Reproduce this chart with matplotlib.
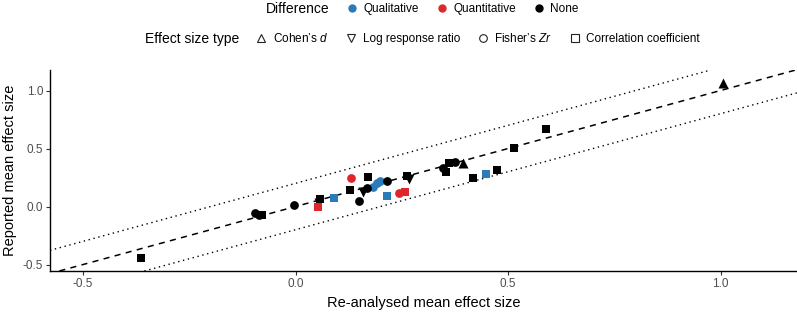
import matplotlib
matplotlib.use('Agg')
import matplotlib.pyplot as plt
from matplotlib.lines import Line2D

plt.rcParams['font.family'] = ['Liberation Sans', 'DejaVu Sans']
plt.rcParams['mathtext.fontset'] = 'custom'
plt.rcParams['mathtext.it'] = 'Liberation Sans:italic'
plt.rcParams['mathtext.rm'] = 'Liberation Sans'

# ---- data ----
reanalysed = [-0.364, -0.096, -0.085, -0.078, -0.003, 0.053, 0.058, 0.055, 0.091, 0.131,
              0.129, 0.171, 0.150, 0.159, 0.169, 0.183, 0.192, 0.199, 0.216, 0.216,
              0.244, 0.258, 0.263, 0.268, 0.348, 0.355, 0.360, 0.376, 0.395, 0.418,
              0.449, 0.475, 0.515, 0.590, 1.007]
reported = [-0.444, -0.056, -0.073, -0.073, 0.013, -0.004, 0.065, 0.030, 0.073, 0.246,
            0.142, 0.254, 0.047, 0.125, 0.159, 0.168, 0.203, 0.220, 0.220, 0.091,
            0.116, 0.125, 0.263, 0.237, 0.332, 0.297, 0.375, 0.384, 0.375, 0.246,
            0.280, 0.315, 0.504, 0.668, 1.064]
difference = ['None', 'None', 'None', 'None', 'None', 'Quantitative', 'None', 'None', 'Qualitative', 'Quantitative',
              'None', 'None', 'None', 'None', 'None', 'Qualitative', 'Qualitative', 'Qualitative', 'None', 'Qualitative',
              'Quantitative', 'Quantitative', 'None', 'None', 'None', 'None', 'None', 'None', 'None', 'None',
              'Qualitative', 'None', 'None', 'None', 'None']
es_type = ['r', 'Zr', 'Zr', 'r', 'Zr', 'r', 'r', 'lnRR', 'r', 'Zr',
           'r', 'r', 'Zr', 'lnRR', 'Zr', 'Zr', 'Zr', 'Zr', 'Zr', 'r',
           'Zr', 'r', 'r', 'lnRR', 'Zr', 'r', 'r', 'Zr', 'd', 'r',
           'r', 'r', 'r', 'r', 'd']

diff_levels = ['Qualitative', 'Quantitative', 'None']
diff_colors = ['#2b7bba', '#e0262b', '#000000']
type_levels = ['d', 'lnRR', 'Zr', 'r']
type_labels = ['Cohen\u2019s $d$', 'Log response ratio', 'Fisher\u2019s $Zr$', 'Correlation coefficient']
type_markers = ['^', 'v', 'o', 's']
type_sizes = [7.2, 7.2, 6.3, 5.6]
band = 0.2

fig = plt.figure(figsize=(7.97, 3.14), dpi=100)
W, H = 797, 314
ax = fig.add_axes([50 / W, 1 - 271 / H, (797 - 50) / W, (271 - 70) / H])

ax.axline((0, 0), slope=1, color='black', lw=1.1, ls=(0, (4, 3.5)), zorder=1)
ax.axline((0, band), slope=1, color='black', lw=1.0, ls=(0, (1, 2.6)), zorder=1)
ax.axline((0, -band), slope=1, color='black', lw=1.0, ls=(0, (1, 2.6)), zorder=1)

for t, m, ms in zip(type_levels, type_markers, type_sizes):
    for d, c in zip(diff_levels, diff_colors):
        xs = [x for x, tt, dd in zip(reanalysed, es_type, difference) if tt == t and dd == d]
        ys = [y for y, tt, dd in zip(reported, es_type, difference) if tt == t and dd == d]
        if xs:
            ax.scatter(xs, ys, marker=m, s=ms ** 2, color=c, linewidths=0, zorder=3)

ax.set_xlim(-0.578, 1.18)
ax.set_ylim(-0.556, 1.177)
ax.set_xticks([-0.5, 0.0, 0.5, 1.0])
ax.set_yticks([-0.5, 0.0, 0.5, 1.0])
ax.set_xticklabels(['-0.5', '0.0', '0.5', '1.0'])
ax.set_yticklabels(['-0.5', '0.0', '0.5', '1.0'])
for s in ['top', 'right']:
    ax.spines[s].set_visible(False)
for s in ['left', 'bottom']:
    ax.spines[s].set_linewidth(1.0)
ax.tick_params(axis='both', length=3, width=0.8, color='#333333', labelsize=8.5,
               labelcolor='#4d4d4d', pad=2)
ax.set_xlabel('Re-analysed mean effect size', fontsize=10.5, labelpad=4)
ax.set_ylabel('Reported mean effect size', fontsize=10.5, labelpad=4)


def side_title(leg):
    box = leg.get_children()[0]
    title = box.get_children()[0]
    hpack = box.get_children()[1]
    box._children = [hpack]
    hpack._children = [title] + hpack.get_children()
    hpack.align = 'center'


h1 = [Line2D([], [], marker='o', ls='', color=c, markersize=5) for c in diff_colors]
leg1 = fig.legend(h1, diff_levels, title='Difference', loc='center',
                  bbox_to_anchor=(0.53, 1 - 9 / H), ncol=3, frameon=False,
                  fontsize=8.5, title_fontsize=10, handlelength=1.0,
                  handletextpad=0.5, columnspacing=1.4, borderpad=0, borderaxespad=0)
side_title(leg1)

h2 = [Line2D([], [], marker=m, ls='', markerfacecolor='none', markeredgecolor='#222222',
             markeredgewidth=0.8, markersize=5.5) for m in type_markers]
leg2 = fig.legend(h2, type_labels, title='Effect size type', loc='center',
                  bbox_to_anchor=(0.53, 1 - 39 / H), ncol=4, frameon=False,
                  fontsize=8.5, title_fontsize=10, handlelength=1.0,
                  handletextpad=0.5, columnspacing=1.4, borderpad=0, borderaxespad=0)
side_title(leg2)

fig.savefig('out.png', dpi=100)
